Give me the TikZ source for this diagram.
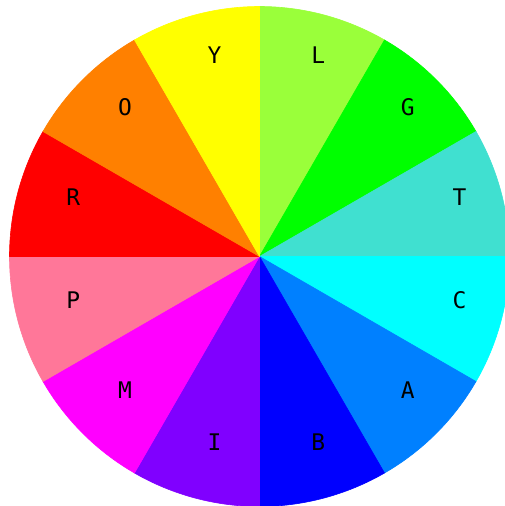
\documentclass[tikz,border=0pt]{standalone}
\usepackage{fontspec}
\usetikzlibrary{calc}
\newfontfamily\wheelfont{DejaVu Sans Mono}
\definecolor{cL}{RGB}{154,255,58}
\definecolor{cG}{RGB}{0,255,0}
\definecolor{cT}{RGB}{64,224,208}
\definecolor{cC}{RGB}{0,255,255}
\definecolor{cA}{RGB}{0,128,255}
\definecolor{cB}{RGB}{0,0,255}
\definecolor{cI}{RGB}{128,0,255}
\definecolor{cM}{RGB}{255,0,255}
\definecolor{cP}{RGB}{255,119,153}
\definecolor{cR}{RGB}{255,0,0}
\definecolor{cO}{RGB}{255,128,0}
\definecolor{cY}{RGB}{255,255,0}
\tikzset{wlabel/.style={font=\wheelfont\fontsize{22.9}{27}\selectfont, inner sep=0pt, text=black}}
\begin{document}
\begin{tikzpicture}[x=1pt,y=1pt]
\useasboundingbox (0,0) rectangle (505,506);
\clip (0,0) rectangle (505,506);
\fill[white] (0,0) rectangle (505,506);
\coordinate (c) at (259.5,249.5);
\foreach \a/\col/\lab in {60/cL/L,30/cG/G,0/cT/T,-30/cC/C,-60/cA/A,-90/cB/B,-120/cI/I,-150/cM/M,-180/cP/P,150/cR/R,120/cO/O,90/cY/Y}{
  \filldraw[fill=\col, draw=\col, line width=0.6pt, line join=round] (c) -- ++(\a:250) arc[start angle=\a, end angle=\a+30, radius=250] -- cycle;
}
\foreach \a/\lab in {60/L,30/G,0/T,-30/C,-60/A,-90/B,-120/I,-150/M,-180/P,150/R,120/O,90/Y}{
  \node[wlabel] (n\lab) at ($(c)+(\a+15:200)+(6.9,7.8)$) {\lab};
}
\end{tikzpicture}
\end{document}
